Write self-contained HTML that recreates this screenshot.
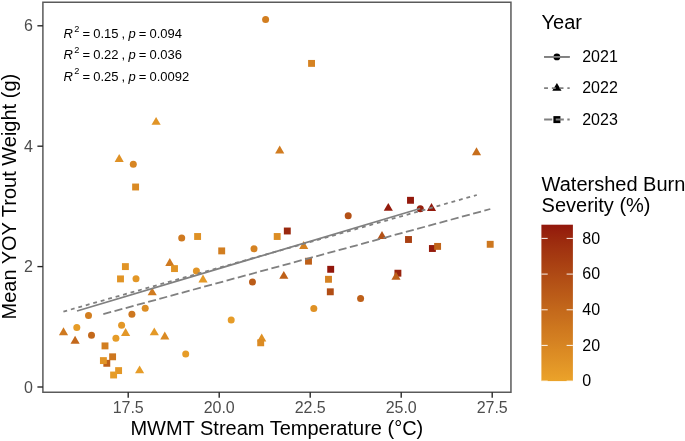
<!DOCTYPE html>
<html><head><meta charset="utf-8"><style>
html,body{margin:0;padding:0;background:#fff;}
svg{display:block;font-family:"Liberation Sans",sans-serif;will-change:transform;}
.tk{stroke:#222;stroke-width:1.35;}
.tl{font-size:16px;fill:#4d4d4d;}
.lt{font-size:16px;fill:#000;}
.ti{font-size:20px;fill:#000;}
.st{font-size:13px;fill:#000;}
.it{font-style:italic;}
.sup{font-size:9.2px;}
.cbt{stroke:#fff;stroke-width:1.1;stroke-opacity:0.85;}
.rl{stroke:#808080;stroke-width:1.8;fill:none;}
</style></head><body>
<svg width="685" height="441" viewBox="0 0 685 441">
<defs><linearGradient id="cb" x1="0" y1="0" x2="0" y2="1"><stop offset="0.000" stop-color="#92170c"/><stop offset="0.050" stop-color="#97210d"/><stop offset="0.100" stop-color="#9b2a0e"/><stop offset="0.150" stop-color="#a03210"/><stop offset="0.200" stop-color="#a43911"/><stop offset="0.250" stop-color="#a94012"/><stop offset="0.300" stop-color="#ad4714"/><stop offset="0.350" stop-color="#b24e15"/><stop offset="0.400" stop-color="#b65517"/><stop offset="0.450" stop-color="#bb5b18"/><stop offset="0.500" stop-color="#bf621a"/><stop offset="0.550" stop-color="#c4691b"/><stop offset="0.600" stop-color="#c86f1d"/><stop offset="0.650" stop-color="#cd761e"/><stop offset="0.700" stop-color="#d17c20"/><stop offset="0.750" stop-color="#d58222"/><stop offset="0.800" stop-color="#da8923"/><stop offset="0.850" stop-color="#de8f25"/><stop offset="0.900" stop-color="#e29627"/><stop offset="0.950" stop-color="#e79c28"/><stop offset="1.000" stop-color="#eba32a"/></linearGradient></defs>
<rect x="0" y="0" width="685" height="441" fill="#fff"/>
<g><circle cx="265.6" cy="19.4" r="3.5" fill="#d27e20"/><circle cx="133.3" cy="164.3" r="3.5" fill="#d78522"/><circle cx="181.7" cy="238.1" r="3.5" fill="#cf791f"/><circle cx="254.0" cy="248.8" r="3.5" fill="#d58222"/><circle cx="252.5" cy="282.1" r="3.5" fill="#bb5c18"/><circle cx="348.2" cy="215.7" r="3.5" fill="#b45116"/><circle cx="420.3" cy="208.7" r="3.5" fill="#96200d"/><circle cx="136.0" cy="278.7" r="3.5" fill="#e39727"/><circle cx="196.4" cy="271.0" r="3.5" fill="#e19426"/><circle cx="360.6" cy="298.4" r="3.5" fill="#be6019"/><circle cx="313.8" cy="308.4" r="3.5" fill="#df9125"/><circle cx="88.5" cy="315.4" r="3.5" fill="#d27e20"/><circle cx="76.8" cy="327.4" r="3.5" fill="#e69c28"/><circle cx="91.5" cy="335.2" r="3.5" fill="#c3681b"/><circle cx="145.2" cy="308.3" r="3.5" fill="#dc8d24"/><circle cx="131.9" cy="314.2" r="3.5" fill="#cd771f"/><circle cx="121.6" cy="325.2" r="3.5" fill="#e39727"/><circle cx="115.9" cy="338.2" r="3.5" fill="#e69c28"/><circle cx="185.7" cy="354.0" r="3.5" fill="#e69c28"/><circle cx="231.2" cy="320.1" r="3.5" fill="#e69c28"/><polygon points="156.10,116.91 160.68,124.84 151.52,124.84" fill="#e19426"/><polygon points="119.20,154.11 123.78,162.04 114.62,162.04" fill="#df9125"/><polygon points="279.70,145.51 284.28,153.44 275.12,153.44" fill="#d17c20"/><polygon points="476.50,147.21 481.08,155.14 471.92,155.14" fill="#c76e1c"/><polygon points="169.80,258.01 174.38,265.94 165.22,265.94" fill="#cf791f"/><polygon points="152.20,287.41 156.78,295.34 147.62,295.34" fill="#d07b20"/><polygon points="203.00,274.61 207.58,282.54 198.42,282.54" fill="#e59a28"/><polygon points="303.70,241.01 308.28,248.94 299.12,248.94" fill="#d58222"/><polygon points="283.80,270.91 288.38,278.84 279.22,278.84" fill="#be6019"/><polygon points="388.30,202.91 392.88,210.84 383.72,210.84" fill="#941b0c"/><polygon points="431.50,203.11 436.08,211.04 426.92,211.04" fill="#93190c"/><polygon points="382.00,231.01 386.58,238.94 377.42,238.94" fill="#b45116"/><polygon points="63.50,327.21 68.08,335.14 58.92,335.14" fill="#cf791f"/><polygon points="75.10,335.71 79.68,343.64 70.52,343.64" fill="#c3681b"/><polygon points="125.60,328.01 130.18,335.94 121.02,335.94" fill="#e39727"/><polygon points="139.60,365.41 144.18,373.34 135.02,373.34" fill="#e69c28"/><polygon points="154.30,327.41 158.88,335.34 149.72,335.34" fill="#e49927"/><polygon points="164.80,331.51 169.38,339.44 160.22,339.44" fill="#da8a23"/><polygon points="261.70,333.61 266.28,341.54 257.12,341.54" fill="#df9125"/><rect x="308.10" y="59.95" width="6.90" height="6.90" fill="#d58222"/><rect x="132.15" y="183.55" width="6.90" height="6.90" fill="#da8a23"/><rect x="194.15" y="233.05" width="6.90" height="6.90" fill="#df9125"/><rect x="121.95" y="263.15" width="6.90" height="6.90" fill="#e19426"/><rect x="117.05" y="275.45" width="6.90" height="6.90" fill="#e19426"/><rect x="171.05" y="265.15" width="6.90" height="6.90" fill="#e19426"/><rect x="218.25" y="247.45" width="6.90" height="6.90" fill="#d27e20"/><rect x="273.75" y="233.05" width="6.90" height="6.90" fill="#dc8d24"/><rect x="283.85" y="227.55" width="6.90" height="6.90" fill="#9a280e"/><rect x="305.05" y="257.75" width="6.90" height="6.90" fill="#be6019"/><rect x="327.25" y="265.85" width="6.90" height="6.90" fill="#92170c"/><rect x="325.05" y="275.85" width="6.90" height="6.90" fill="#d58222"/><rect x="326.85" y="288.35" width="6.90" height="6.90" fill="#b14d15"/><rect x="407.05" y="196.85" width="6.90" height="6.90" fill="#93190c"/><rect x="405.05" y="236.05" width="6.90" height="6.90" fill="#a94012"/><rect x="394.45" y="269.75" width="6.90" height="6.90" fill="#98240e"/><rect x="428.95" y="245.05" width="6.90" height="6.90" fill="#941b0c"/><rect x="434.15" y="242.95" width="6.90" height="6.90" fill="#c1651a"/><rect x="486.75" y="240.85" width="6.90" height="6.90" fill="#cd771f"/><rect x="101.55" y="342.45" width="6.90" height="6.90" fill="#d27e20"/><rect x="109.15" y="353.35" width="6.90" height="6.90" fill="#cd771f"/><rect x="103.35" y="359.85" width="6.90" height="6.90" fill="#be6019"/><rect x="99.95" y="357.15" width="6.90" height="6.90" fill="#e19426"/><rect x="115.15" y="367.15" width="6.90" height="6.90" fill="#e39727"/><rect x="110.15" y="371.55" width="6.90" height="6.90" fill="#e69c28"/><rect x="257.25" y="339.35" width="6.90" height="6.90" fill="#db8b24"/><polygon points="396.00,271.71 400.58,279.64 391.42,279.64" fill="#be6019"/></g>
<g>
<line x1="77.0" y1="311.0" x2="420.2" y2="208.5" class="rl"/>
<line x1="63.4" y1="311.6" x2="476.8" y2="195.0" class="rl" stroke-dasharray="3.87 3.884"/>
<line x1="103.3" y1="314.1" x2="490.3" y2="209.0" class="rl" stroke-dasharray="8.13 3.483"/>
</g>
<rect x="42.9" y="2.25" width="468.05" height="390.00" fill="none" stroke="#5a5a5a" stroke-width="1.5"/>
<line x1="128.2" y1="392.25" x2="128.2" y2="397.75" class="tk"/><text x="128.2" y="412.6" class="tl" text-anchor="middle">17.5</text><line x1="219.2" y1="392.25" x2="219.2" y2="397.75" class="tk"/><text x="219.2" y="412.6" class="tl" text-anchor="middle">20.0</text><line x1="310.2" y1="392.25" x2="310.2" y2="397.75" class="tk"/><text x="310.2" y="412.6" class="tl" text-anchor="middle">22.5</text><line x1="401.2" y1="392.25" x2="401.2" y2="397.75" class="tk"/><text x="401.2" y="412.6" class="tl" text-anchor="middle">25.0</text><line x1="492.2" y1="392.25" x2="492.2" y2="397.75" class="tk"/><text x="492.2" y="412.6" class="tl" text-anchor="middle">27.5</text><line x1="37.4" y1="387.0" x2="42.9" y2="387.0" class="tk"/><text x="32.8" y="392.5" class="tl" text-anchor="end">0</text><line x1="37.4" y1="266.6" x2="42.9" y2="266.6" class="tk"/><text x="32.8" y="272.1" class="tl" text-anchor="end">2</text><line x1="37.4" y1="146.2" x2="42.9" y2="146.2" class="tk"/><text x="32.8" y="151.7" class="tl" text-anchor="end">4</text><line x1="37.4" y1="25.8" x2="42.9" y2="25.8" class="tk"/><text x="32.8" y="31.3" class="tl" text-anchor="end">6</text>
<text x="130.4" y="434.8" class="ti">MWMT Stream Temperature (°C)</text>
<text transform="translate(15.7,319.5) rotate(-90)" class="ti">Mean YOY Trout Weight (g)</text>
<g class="st"><text x="63.6" y="38.2" class="it">R</text><text x="74.2" y="31.70" class="sup">2</text><text x="82.45" y="38.2">=</text><text x="93.2" y="38.2">0.15</text><text x="121.5" y="38.2">,</text><text x="128.6" y="38.2" class="it">p</text><text x="138.85" y="38.2">=</text><text x="149.5" y="38.2">0.094</text><text x="63.6" y="59.3" class="it">R</text><text x="74.2" y="52.80" class="sup">2</text><text x="82.45" y="59.3">=</text><text x="93.2" y="59.3">0.22</text><text x="121.5" y="59.3">,</text><text x="128.6" y="59.3" class="it">p</text><text x="138.85" y="59.3">=</text><text x="149.5" y="59.3">0.036</text><text x="63.6" y="80.5" class="it">R</text><text x="74.2" y="74.00" class="sup">2</text><text x="82.45" y="80.5">=</text><text x="93.2" y="80.5">0.25</text><text x="121.5" y="80.5">,</text><text x="128.6" y="80.5" class="it">p</text><text x="138.85" y="80.5">=</text><text x="149.5" y="80.5">0.0092</text></g>
<text x="541.6" y="28.6" class="ti">Year</text>
<g>
<line x1="544.1" y1="56.9" x2="569.7" y2="56.9" class="rl"/>
<circle cx="556.9" cy="56.9" r="3.4" fill="#000"/>
<line x1="544.1" y1="56.9" x2="569.7" y2="56.9" class="rl"/>
<polygon points="556.9,82.9 561.5,90.7 552.3,90.7" fill="#000"/>
<line x1="544.1" y1="88.1" x2="569.7" y2="88.1" class="rl" stroke-dasharray="3.87 3.884"/>
<rect x="553.4" y="116.1" width="7.0" height="7.0" fill="#000"/>
<line x1="544.1" y1="119.5" x2="569.7" y2="119.5" class="rl" stroke-dasharray="8.13 3.483"/>
</g>
<text x="582.2" y="62.0" class="lt">2021</text>
<text x="582.2" y="93.4" class="lt">2022</text>
<text x="582.2" y="124.5" class="lt">2023</text>
<text x="541.6" y="190.7" class="ti">Watershed Burn</text>
<text x="541.6" y="211.9" class="ti">Severity (%)</text>
<rect x="541.4" y="224.7" width="31.50" height="156.40" fill="url(#cb)"/>
<line x1="541.4" y1="381.10" x2="547.6999999999999" y2="381.10" class="cbt"/><line x1="566.6" y1="381.10" x2="572.9" y2="381.10" class="cbt"/><text x="582.3" y="386.40" class="lt">0</text><line x1="541.4" y1="345.43" x2="547.6999999999999" y2="345.43" class="cbt"/><line x1="566.6" y1="345.43" x2="572.9" y2="345.43" class="cbt"/><text x="582.3" y="350.73" class="lt">20</text><line x1="541.4" y1="309.77" x2="547.6999999999999" y2="309.77" class="cbt"/><line x1="566.6" y1="309.77" x2="572.9" y2="309.77" class="cbt"/><text x="582.3" y="315.07" class="lt">40</text><line x1="541.4" y1="274.10" x2="547.6999999999999" y2="274.10" class="cbt"/><line x1="566.6" y1="274.10" x2="572.9" y2="274.10" class="cbt"/><text x="582.3" y="279.40" class="lt">60</text><line x1="541.4" y1="238.43" x2="547.6999999999999" y2="238.43" class="cbt"/><line x1="566.6" y1="238.43" x2="572.9" y2="238.43" class="cbt"/><text x="582.3" y="243.73" class="lt">80</text>
</svg>
</body></html>
